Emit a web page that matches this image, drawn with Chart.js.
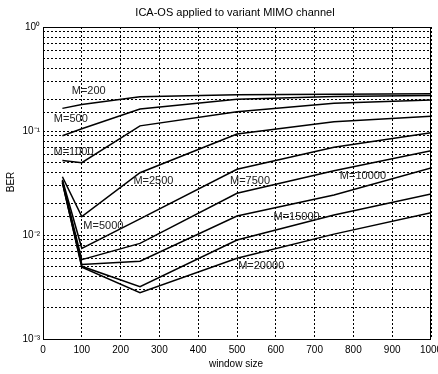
<!DOCTYPE html>
<html>
<head>
<meta charset="utf-8">
<script src="https://cdn.jsdelivr.net/npm/chart.js@4.4.1/dist/chart.umd.min.js"></script>
<style>
  body { margin: 0; background: #fff; }
  canvas { display: block; }
</style>
</head>
<body>
<canvas id="berChart" width="438" height="374"></canvas>
<script>
// window sizes used in the simulation
const windowSize = [50, 100, 250, 500, 750, 1000];

// BER per block length M
const ber200   = [0.165, 0.180, 0.214, 0.223, 0.226, 0.228];
const ber500   = [0.090, 0.105, 0.163, 0.202, 0.215, 0.220];
const ber1000  = [0.052, 0.0496, 0.112, 0.153, 0.185, 0.199];
const ber2500  = [0.0363, 0.0150, 0.0397, 0.0936, 0.123, 0.139];
const ber5000  = [0.034, 0.00745, 0.0143, 0.0428, 0.0697, 0.0964];
const ber7500  = [0.033, 0.0058, 0.0083, 0.0252, 0.0415, 0.0647];
const ber10000 = [0.033, 0.0052, 0.0056, 0.0152, 0.0243, 0.0441];
const ber15000 = [0.032, 0.0050, 0.00318, 0.00895, 0.0156, 0.0248];
const ber20000 = [0.032, 0.0049, 0.00279, 0.00597, 0.0102, 0.0164];

const seriesNames = ['M=200', 'M=500', 'M=1000', 'M=2500', 'M=5000', 'M=7500', 'M=10000', 'M=15000', 'M=20000'];
const seriesData = [ber200, ber500, ber1000, ber2500, ber5000, ber7500, ber10000, ber15000, ber20000];

// where the M=... text sits, in data units (window size, BER)
const labelX = [74, 28, 27, 233, 104, 482, 765, 594, 503];
const labelY = [0.240, 0.130, 0.063, 0.033, 0.0122, 0.033, 0.0369, 0.0150, 0.00503];

const xTicks = [0, 100, 200, 300, 400, 500, 600, 700, 800, 900, 1000];
const yDecadeLabels = { 1: '10\u2070', 0.1: '10\u207B\u00B9', 0.01: '10\u207B\u00B2', 0.001: '10\u207B\u00B3' };

const FONT = '"Liberation Sans", Arial, Helvetica, sans-serif';

const datasets = seriesData.map((vals, i) => ({
   label: seriesNames[i],
   data: vals.map((v, j) => ({ x: windowSize[j], y: v })),
   borderColor: '#000',
   borderWidth: 1.5,
   pointRadius: 0,
   tension: 0,
   fill: false
}));

const textPlugin = {
   id: 'textPlugin',
   afterDraw(chart) {
      const ctx = chart.ctx;
      const a = chart.chartArea;
      const xs = chart.scales.x, ys = chart.scales.y;
      ctx.save();
      // box round the plot
      ctx.strokeStyle = '#000';
      ctx.lineWidth = 1;
      ctx.setLineDash([]);
      ctx.strokeRect(a.left + 0.5, a.top + 0.5, a.right - a.left - 1, a.bottom - a.top);

      ctx.fillStyle = '#222';
      ctx.textBaseline = 'middle';
      ctx.font = '11px ' + FONT;
      ctx.textAlign = 'left';
      seriesNames.forEach((name, i) => {
         ctx.fillText(name, xs.getPixelForValue(labelX[i]), ys.getPixelForValue(labelY[i]));
      });

      ctx.fillStyle = '#000';
      ctx.textAlign = 'center';
      ctx.font = '11px ' + FONT;
      ctx.fillText('ICA-OS applied to variant MIMO channel', 235, 13);
      ctx.font = '10px ' + FONT;
      ctx.fillText('window size', 236, 364);
      ctx.translate(11, 182);
      ctx.rotate(-Math.PI / 2);
      ctx.fillText('BER', 0, 0);
      ctx.restore();
   }
};

new Chart(document.getElementById('berChart'), {
   type: 'line',
   data: { datasets: datasets },
   options: {
      responsive: false,
      animation: false,
      devicePixelRatio: 1,
      layout: { padding: { top: 27, right: 7, left: 0, bottom: 0 } },
      plugins: {
         legend: { display: false },
         title: { display: false },
         tooltip: { enabled: false }
      },
      scales: {
         x: {
            type: 'linear',
            min: 0,
            max: 1000,
            afterBuildTicks: (scale) => { scale.ticks = xTicks.map(v => ({ value: v })); },
            afterFit: (scale) => { scale.height = 35; scale.paddingLeft = 0; scale.paddingRight = 0; },
            border: { display: false, dash: [2, 2] },
            grid: { color: '#000', lineWidth: 1, drawTicks: false },
            ticks: {
               color: '#000',
               padding: 5,
               font: { family: FONT, size: 10 },
               maxRotation: 0,
               autoSkip: false,
               callback: (v) => String(v)
            }
         },
         y: {
            type: 'logarithmic',
            min: 0.001,
            max: 1,
            afterFit: (scale) => { scale.width = 43; scale.paddingTop = 0; scale.paddingBottom = 0; },
            border: { display: false, dash: [2, 2] },
            grid: { color: '#000', lineWidth: 1, drawTicks: false },
            ticks: {
               color: '#000',
               padding: 3,
               autoSkip: false,
               font: { family: FONT, size: 10 },
               callback: (v) => yDecadeLabels[v] !== undefined ? yDecadeLabels[v] : ''
            }
         }
      }
   },
   plugins: [textPlugin]
});
</script>
</body>
</html>
